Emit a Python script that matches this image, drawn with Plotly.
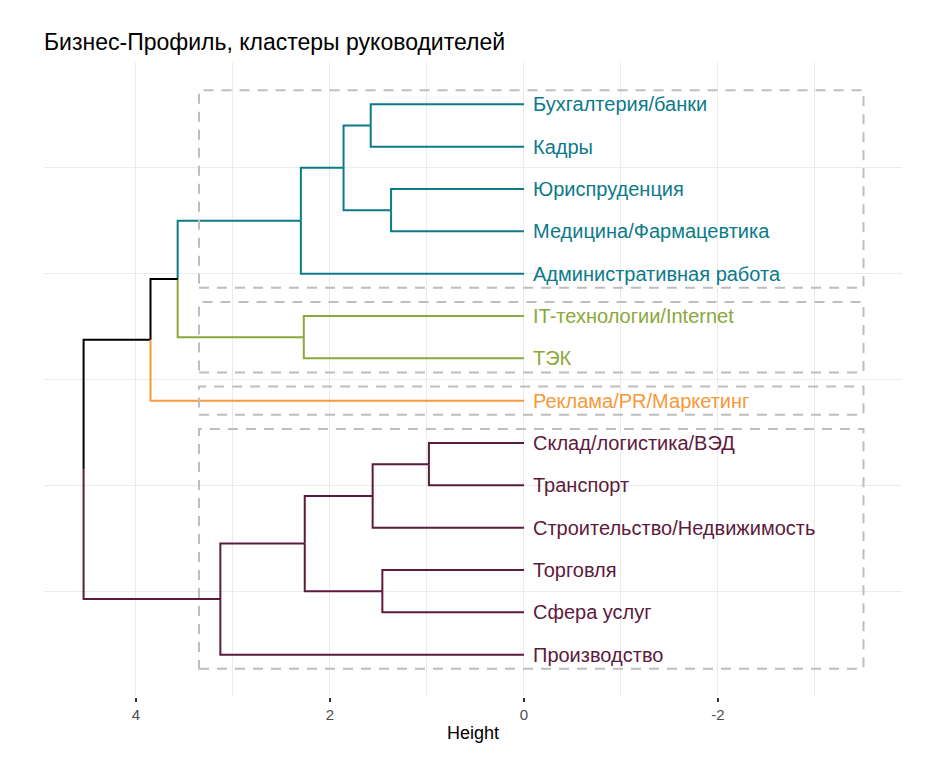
import plotly.graph_objects as go

# ---- data ----
leaves = ["Производство", "Сфера услуг", "Торговля", "Строительство/Недвижимость",
          "Транспорт", "Склад/логистика/ВЭД", "Реклама/PR/Маркетинг", "ТЭК",
          "IT-технологии/Internet", "Административная работа", "Медицина/Фармацевтика",
          "Юриспруденция", "Кадры", "Бухгалтерия/банки"]
leaf_cluster = [4, 4, 4, 4, 4, 4, 3, 2, 2, 1, 1, 1, 1, 1]
# merges: (child a, child b, height); negative = leaf index (1-based), positive = merge index
merge_a = [-6, -11, -3, -4, -13, 5, 4, -8, -10, 7, 9, 11, 12]
merge_b = [-5, -12, -2, 1, -14, 2, 3, -9, 6, -1, 8, -7, 10]
merge_h = [0.98, 1.37, 1.46, 1.56, 1.58, 1.86, 2.26, 2.27, 2.30, 3.13, 3.57, 3.85, 4.54]
cluster_colors = {1: "#0B7A8A", 2: "#8BA83A", 3: "#F5993A", 4: "#5E1A3C"}
x_ticks = [4, 2, 0, -2]
title = "Бизнес-Профиль, кластеры руководителей"

FONT = "Liberation Sans, Arial, sans-serif"

# ---- compute node positions ----
nodes = {}  # key -> (height, y, cluster set)
for i in range(len(leaves)):
    nodes[-(i + 1)] = (0.0, float(i + 1), {leaf_cluster[i]})
for k, (a, b, h) in enumerate(zip(merge_a, merge_b, merge_h), start=1):
    ya, yb = nodes[a][1], nodes[b][1]
    nodes[k] = (h, (ya + yb) / 2, nodes[a][2] | nodes[b][2])


def node_color(key):
    cs = nodes[key][2]
    return cluster_colors[next(iter(cs))] if len(cs) == 1 else "#000000"


segs = {}
for k, (a, b, h) in enumerate(zip(merge_a, merge_b, merge_h), start=1):
    ym = nodes[k][1]
    for c in (a, b):
        hc, yc, _ = nodes[c]
        col = node_color(c)
        xs, ys = segs.setdefault(col, ([], []))
        xs += [h, h, hc, None]
        ys += [ym, yc, yc, None]

fig = go.Figure()
for col, (xs, ys) in segs.items():
    fig.add_trace(go.Scatter(x=xs, y=ys, mode="lines",
                             line=dict(color=col, width=2), hoverinfo="skip",
                             showlegend=False))

# labels
for i, lab in enumerate(leaves):
    fig.add_annotation(x=0, y=i + 1, text=lab, showarrow=False, xanchor="left",
                       xshift=7, font=dict(size=20, color=cluster_colors[leaf_cluster[i]], family=FONT))

# cluster rectangles
cut = (merge_h[-4] + merge_h[-3]) / 2  # cut level giving 4 clusters
rect_right = -3.5
for c in sorted(set(leaf_cluster)):
    ys = [i + 1 for i, cc in enumerate(leaf_cluster) if cc == c]
    fig.add_shape(type="rect", x0=cut, x1=rect_right, y0=min(ys) - 1 / 3, y1=max(ys) + 1 / 3,
                  line=dict(color="#BEBEBE", width=2, dash="10px,8px"), layer="above")

# page body has an 8px margin -> figure is 935x760 placed at (8, 8)
W, H = 935, 760
fig.update_layout(
    width=W, height=H,
    margin=dict(l=36, r=41, t=54, b=71),
    paper_bgcolor="white", plot_bgcolor="white",
    title=dict(text=title, x=36 / W, xanchor="left", y=1 - 34 / H, yanchor="middle",
               font=dict(size=23, color="#000000", family=FONT)),
    font=dict(family=FONT),
)
fig.update_xaxes(range=[4.948, -3.897], tickvals=x_ticks, ticktext=[str(v) for v in x_ticks],
                 showgrid=True, gridcolor="#EBEBEB", gridwidth=1, zeroline=False,
                 ticks="outside", ticklen=4, tickwidth=2, tickcolor="#333333",
                 tickfont=dict(size=15, color="#4D4D4D", family=FONT),
                 minor=dict(tickvals=[3, 1, -1, -3], showgrid=True, gridcolor="#EBEBEB", gridwidth=1, ticks=""),
                 title=dict(text="Height", font=dict(size=18, color="#000000", family=FONT), standoff=4),
                 showline=False)
fig.update_yaxes(range=[0, 15], tickvals=[0, 2.5, 5, 7.5, 10, 12.5, 15], showticklabels=False,
                 showgrid=True, gridcolor="#EBEBEB", gridwidth=1, zeroline=False, showline=False)

fig.write_html("out.html")
